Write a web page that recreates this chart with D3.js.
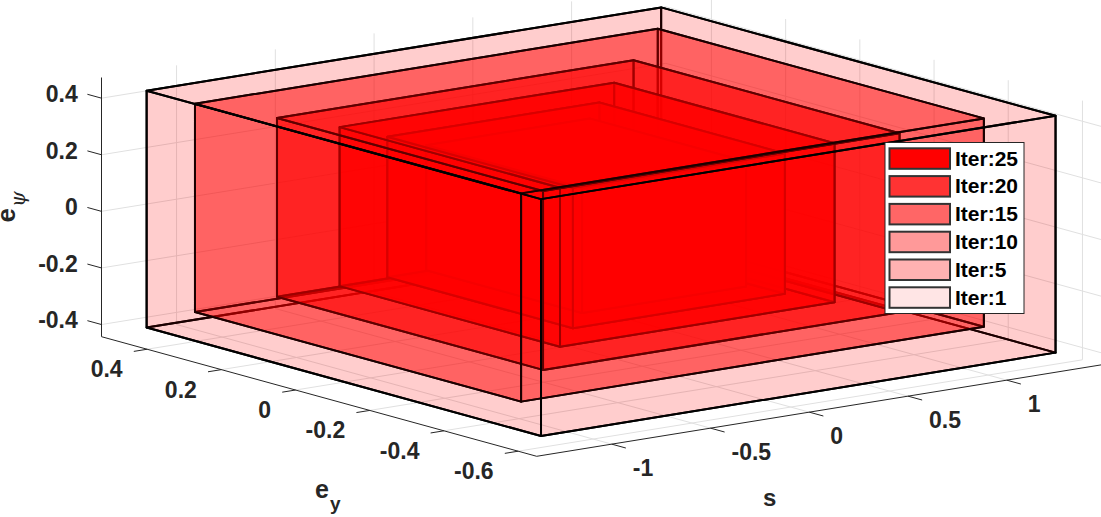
<!DOCTYPE html>
<html lang="en">
<head>
    <meta charset="UTF-8">
    <title>Nested boxes per iteration</title>
    <script src="https://d3js.org/d3.v7.min.js"></script>
    <style>
        html, body { margin: 0; padding: 0; background: #fff; overflow: hidden; }
        svg { display: block; }
        text { font-family: "Liberation Sans", Arial, sans-serif; font-weight: bold; }
    </style>
</head>
<body>
    <div id="chart"></div>

    <script>
        const width = 1101;
        const height = 517;

        // boxes from outermost to innermost
        const iterations = [1, 5, 10, 15, 20, 25];
        const faceAlpha = [0.1, 0.3, 0.4, 0.6, 0.8, 1];
        const sMin = [-1.206, -1.042, -0.775, -0.567, -0.419, -0.303];
        const sMax = [1.399, 1.301, 1.03, 0.823, 0.654, 0.527];
        const eyMin = [-0.569, -0.428, -0.345, -0.28, -0.236, -0.199];
        const eyMax = [0.494, 0.451, 0.372, 0.314, 0.264, 0.221];
        const psiMin = [-0.42, -0.368, -0.316, -0.281, -0.248, -0.221];
        const psiMax = [0.417, 0.368, 0.316, 0.281, 0.248, 0.221];

        // axis limits and ticks
        const sLim = [-1.38, 1.477];
        const eyLim = [-0.65, 0.523];
        const psiLim = [-0.443, 0.473];
        const sTicks = [-1, -0.5, 0, 0.5, 1];
        const eyTicks = [0.4, 0.2, 0, -0.2, -0.4, -0.6];
        const psiTicks = [0.4, 0.2, 0, -0.2, -0.4];

        const svg = d3.select("#chart")
                      .append("svg")
                      .attr("width", width)
                      .attr("height", height);

        // orthographic view: each data axis moves the point along a fixed screen direction
        const originX = 536.7;
        const originY = 456.3;
        const sToX = d3.scaleLinear().domain(sLim).range([0, 564.3]);
        const sToY = d3.scaleLinear().domain(sLim).range([0, -91.4]);
        const eyToX = d3.scaleLinear().domain(eyLim).range([0, -435.2]);
        const eyToY = d3.scaleLinear().domain(eyLim).range([0, -119.6]);
        const psiToY = d3.scaleLinear().domain(psiLim).range([0, -259.2]);

        function project(s, ey, psi) {
            return [
                originX + sToX(s) + eyToX(ey),
                originY + sToY(s) + eyToY(ey) + psiToY(psi)
            ];
        }

        const line3 = d3.line();

        function seg(g, a, b, stroke, w) {
            g.append("path")
             .attr("d", line3([project(...a), project(...b)]))
             .attr("fill", "none")
             .attr("stroke", stroke)
             .attr("stroke-width", w);
        }

        // grid on the floor and the two back walls
        const gridColor = "#e0e0e0";
        const grid = svg.append("g");
        sTicks.forEach(s => {
            seg(grid, [s, eyLim[0], psiLim[0]], [s, eyLim[1], psiLim[0]], gridColor, 1);
            seg(grid, [s, eyLim[1], psiLim[0]], [s, eyLim[1], psiLim[1]], gridColor, 1);
        });
        eyTicks.forEach(e => {
            seg(grid, [sLim[0], e, psiLim[0]], [sLim[1], e, psiLim[0]], gridColor, 1);
            seg(grid, [sLim[1], e, psiLim[0]], [sLim[1], e, psiLim[1]], gridColor, 1);
        });
        psiTicks.forEach(p => {
            seg(grid, [sLim[0], eyLim[1], p], [sLim[1], eyLim[1], p], gridColor, 1);
            seg(grid, [sLim[1], eyLim[1], p], [sLim[1], eyLim[0], p], gridColor, 1);
        });

        // axis rulers and tick marks
        const axisColor = "#262626";
        const axes = svg.append("g");
        seg(axes, [sLim[0], eyLim[1], psiLim[0]], [sLim[0], eyLim[1], psiLim[1]], axisColor, 1);
        seg(axes, [sLim[0], eyLim[1], psiLim[0]], [sLim[0], eyLim[0], psiLim[0]], axisColor, 1);
        seg(axes, [sLim[0], eyLim[0], psiLim[0]], [sLim[1], eyLim[0], psiLim[0]], axisColor, 1);
        psiTicks.forEach(p => seg(axes, [sLim[0], eyLim[1], p], [sLim[0], eyLim[1] + 0.038, p], axisColor, 1));
        eyTicks.forEach(e => seg(axes, [sLim[0], e, psiLim[0]], [sLim[0] - 0.0675, e, psiLim[0]], axisColor, 1));
        sTicks.forEach(s => seg(axes, [s, eyLim[0], psiLim[0]], [s, eyLim[0] - 0.038, psiLim[0]], axisColor, 1));

        // faces of box i, back ones first then front ones
        function backFaces(i) {
            const a = sMin[i], b = sMax[i], c = eyMin[i], d = eyMax[i], e = psiMin[i], f = psiMax[i];
            return [
                [[a, c, e], [b, c, e], [b, d, e], [a, d, e]],
                [[b, c, e], [b, d, e], [b, d, f], [b, c, f]],
                [[a, d, e], [b, d, e], [b, d, f], [a, d, f]]
            ];
        }
        function frontFaces(i) {
            const a = sMin[i], b = sMax[i], c = eyMin[i], d = eyMax[i], e = psiMin[i], f = psiMax[i];
            return [
                [[a, c, e], [a, d, e], [a, d, f], [a, c, f]],
                [[a, c, e], [b, c, e], [b, c, f], [a, c, f]],
                [[a, c, f], [b, c, f], [b, d, f], [a, d, f]]
            ];
        }

        const edgeWidth = 2;
        const boxes = svg.append("g");
        function drawFaces(faces, i) {
            faces.forEach(face => {
                boxes.append("path")
                     .attr("d", line3(face.map(p => project(...p))) + "Z")
                     .attr("fill", "#ff0000")
                     .attr("fill-opacity", faceAlpha[i])
                     .attr("stroke", "#000")
                     .attr("stroke-width", edgeWidth)
                     .attr("stroke-linejoin", "round");
            });
        }
        // nested boxes so painter order is simple: outer backs in, then inner fronts out
        iterations.forEach((it, i) => drawFaces(backFaces(i), i));
        for (let i = iterations.length - 1; i >= 0; i--) {
            drawFaces(frontFaces(i), i);
        }

        // tick labels
        const labels = svg.append("g")
                          .attr("fill", axisColor)
                          .style("font-size", "23px");
        psiTicks.forEach(p => {
            const [x, y] = project(sLim[0], eyLim[1], p);
            labels.append("text").attr("x", x - 23.7).attr("y", y - 4.3)
                  .attr("dy", "0.35em").attr("text-anchor", "end").text(p);
        });
        eyTicks.forEach(e => {
            const [x, y] = project(sLim[0], e, psiLim[0]);
            labels.append("text").attr("x", x - 24.5).attr("y", y + 20)
                  .attr("dy", "0.35em").attr("text-anchor", "end").text(e);
        });
        sTicks.forEach(s => {
            const [x, y] = project(s, eyLim[0], psiLim[0]);
            labels.append("text").attr("x", x + 21).attr("y", y + 24)
                  .attr("dy", "0.35em").text(s);
        });

        // axis titles
        const titles = svg.append("g").attr("fill", axisColor);
        const eyTitle = titles.append("text").attr("x", 315).attr("y", 498).style("font-size", "25px");
        eyTitle.append("tspan").text("e");
        eyTitle.append("tspan").attr("dy", 12).attr("dx", 1).style("font-size", "19px").text("y");
        titles.append("text").attr("x", 763).attr("y", 506).style("font-size", "24px").text("s");
        const psiTitle = titles.append("text")
                               .attr("transform", "translate(15,222.5) rotate(-90)")
                               .style("font-size", "26px");
        psiTitle.append("tspan").text("e");
        psiTitle.append("tspan").attr("dy", 10).attr("dx", 1)
                .style("font-size", "20px").style("font-style", "italic")
                .style("font-weight", "normal").style("font-family", "DejaVu Serif").text("ψ");

        // legend
        const legendRows = d3.scaleLinear().domain([0, 5]).range([148.3, 287.3]);
        const legend = svg.append("g");
        legend.append("rect")
              .attr("x", 885).attr("y", 142.5)
              .attr("width", 139).attr("height", 171)
              .attr("fill", "#fff").attr("stroke", axisColor).attr("stroke-width", 1);
        const legendOrder = d3.range(iterations.length).reverse();
        legendOrder.forEach((i, row) => {
            legend.append("rect")
                  .attr("x", 889.5).attr("y", legendRows(row))
                  .attr("width", 60.5).attr("height", 20.5)
                  .attr("fill", "#ff0000").attr("fill-opacity", faceAlpha[i])
                  .attr("stroke", "#333").attr("stroke-width", 2);
            legend.append("text")
                  .attr("x", 955).attr("y", legendRows(row) + 10)
                  .attr("dy", "0.35em").attr("fill", "#000")
                  .style("font-size", "21px")
                  .text("Iter:" + iterations[i]);
        });
    </script>
</body>
</html>
